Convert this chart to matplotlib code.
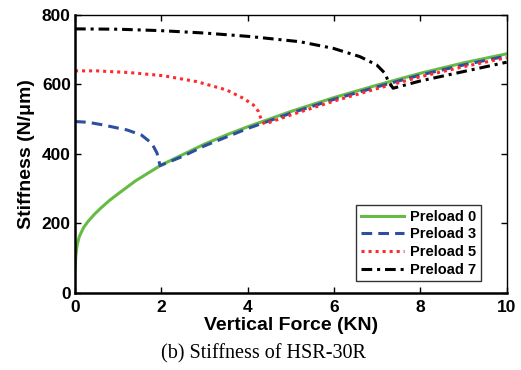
import matplotlib
matplotlib.use('Agg')
import matplotlib.pyplot as plt

# データ
f_p0 = [0, 0.02, 0.05, 0.1, 0.2, 0.3, 0.45, 0.6, 0.8, 1.0, 1.4, 2.0, 2.5, 3.0, 3.5, 4.0, 5.0, 6.0, 7.0, 8.0, 9.0, 10.0]
k_p0 = [70, 108, 138, 162, 188, 205, 226, 244, 266, 285, 322, 368, 398, 428, 454, 478, 522, 562, 598, 632, 662, 688]

f_p3 = [0, 0.3, 0.66, 1.0, 1.2, 1.54, 1.78, 1.9, 1.97, 2.5, 3.0, 4.0, 5.0, 6.0, 7.0, 8.0, 9.0, 10.0]
k_p3 = [493, 491, 483, 474, 469, 454, 430, 402, 366, 393, 423, 473, 517, 557, 593, 627, 656, 682]

f_p5 = [0, 0.5, 1.27, 2.05, 2.82, 3.51, 3.9, 4.13, 4.25, 4.33, 4.4, 5.0, 6.0, 7.0, 8.0, 9.0, 10.0]
k_p5 = [639, 639, 634, 625, 608, 584, 560, 541, 522, 493, 486, 512, 552, 588, 622, 651, 677]

f_p7 = [0, 1.0, 1.97, 3.0, 4.05, 5.21, 5.98, 6.6, 6.99, 7.18, 7.26, 7.37, 8.0, 9.0, 10.0]
k_p7 = [760, 759, 755, 748, 738, 723, 704, 680, 656, 632, 608, 589, 610, 637, 664]

x_ticks = [0, 2, 4, 6, 8, 10]
y_ticks = [0, 200, 400, 600, 800]

plt.rcParams['font.family'] = ['Liberation Sans', 'DejaVu Sans']
plt.rcParams['xtick.direction'] = 'in'
plt.rcParams['ytick.direction'] = 'in'

fig = plt.figure(figsize=(5.21, 3.70), dpi=100)
ax = fig.add_axes([0.144, 0.209, 0.8285, 0.7505])

ax.plot(f_p0, k_p0, color='#66bb44', lw=2.2, label='Preload 0')
ax.plot(f_p3, k_p3, color='#2d4f9f', lw=2.2, ls=(0, (3.5, 2)), label='Preload 3')
ax.plot(f_p5, k_p5, color='#ff2a2a', lw=2.2, ls=(0, (1, 1.3)), label='Preload 5')
ax.plot(f_p7, k_p7, color='black', lw=2.2, ls=(0, (3.5, 1.6, 1, 1.6)), label='Preload 7')

ax.set_xlim(0, 10)
ax.set_ylim(0, 800)
ax.set_xticks(x_ticks)
ax.set_yticks(y_ticks)
ax.xaxis.set_ticks_position('both')
ax.yaxis.set_ticks_position('both')
ax.tick_params(length=4, width=1, labelsize=12.5)
ax.tick_params(axis='x', pad=5)
ax.tick_params(axis='y', pad=3)
for lab in ax.get_xticklabels() + ax.get_yticklabels():
    lab.set_fontweight('bold')
for s in ax.spines.values():
    s.set_linewidth(1.0)
ax.spines['left'].set_linewidth(1.8)
ax.spines['bottom'].set_linewidth(1.8)

ax.set_xlabel('Vertical Force (KN)', fontsize=14, fontweight='bold', labelpad=2)
ax.set_ylabel('Stiffness (N/\u03bcm)', fontsize=14, fontweight='bold', labelpad=5)

leg = ax.legend(loc='lower right', bbox_to_anchor=(0.94, 0.042),
                prop={'weight': 'bold', 'size': 10.5}, frameon=True, fancybox=False,
                edgecolor='black', handlelength=3.0, handletextpad=0.4, labelspacing=0.25,
                borderpad=0.3, borderaxespad=0)
leg.get_frame().set_linewidth(1.0)

fig.text(0.505, 0.045, '(b) Stiffness of HSR-30R', family='Liberation Serif', fontsize=14.5,
         ha='center', va='center')

fig.savefig('out.png', dpi=100)
plt.close()
